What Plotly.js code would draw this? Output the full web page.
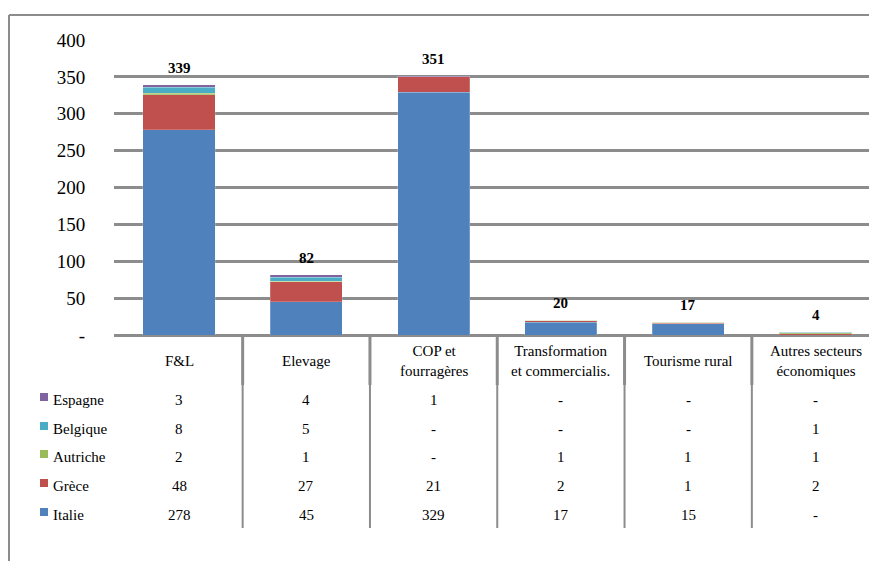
<!DOCTYPE html>
<html>
<head>
<meta charset="utf-8">
<script src="https://cdn.plot.ly/plotly-3.0.1.min.js"></script>
<style>html,body{margin:0;padding:0;background:#fff;}#chart{width:869px;height:561px;}</style>
</head>
<body>
<div id="chart"></div>
<script>
// ---- data ----
const categories = ["F&L", "Elevage", "COP et\nfourragères", "Transformation\net commercialis.", "Tourisme rural", "Autres secteurs\néconomiques"];
const seriesNames = ["Italie", "Grèce", "Autriche", "Belgique", "Espagne"];
const italie   = [278, 45, 329, 17, 15, 0];
const grece    = [48, 27, 21, 2, 1, 2];
const autriche = [2, 1, 0, 1, 1, 1];
const belgique = [8, 5, 0, 0, 0, 1];
const espagne  = [3, 4, 1, 0, 0, 0];
const totals   = [339, 82, 351, 20, 17, 4];
const yTickVals = [0, 50, 100, 150, 200, 250, 300, 350, 400];
const yTickText = ["-", "50", "100", "150", "200", "250", "300", "350", "400"];

const seriesValues = [italie, grece, autriche, belgique, espagne];
const colors = ["#4F81BD", "#C0504D", "#9BBB59", "#4BACC6", "#8064A2"];

// layout geometry helpers (pixel -> paper)
const W = 869, H = 561, ML = 114, MT = 40, MB = 226;
const plotW = W - ML, plotH = H - MT - MB;
const pxX = p => (p - ML) / plotW;
const pxY = p => (H - MB - p) / plotH;

const xIdx = categories.map((c, i) => i);
const serif = "'Liberation Serif', 'DejaVu Serif', serif";

const traces = seriesNames.map((name, k) => ({
  type: "bar",
  name: name,
  x: xIdx,
  y: seriesValues[k],
  width: 0.566,
  marker: {color: colors[k], line: {color: "rgba(255,255,255,0.4)", width: 0.5}},
  hoverinfo: "skip"
}));

const annotations = [];
const shapes = [];

// totals above bars
totals.forEach((t, i) => annotations.push({
  x: i, y: t, xref: "x", yref: "y", text: "<b>" + t + "</b>", showarrow: false,
  yanchor: "bottom", yshift: 7, font: {family: serif, size: 15, color: "#000"}
}));

// header row (category names)
categories.forEach((c, i) => annotations.push({
  x: i, y: pxY(361), xref: "x", yref: "paper", text: c.replace("\n", "<br>"), showarrow: false,
  yanchor: "middle", font: {family: serif, size: 15, color: "#000"}
}));

// table rows: top row Espagne ... bottom row Italie
const rowOrder = [4, 3, 2, 1, 0];
const rowY = [400, 429, 457, 486, 515];
rowOrder.forEach((k, r) => {
  const yc = pxY(rowY[r]);
  annotations.push({
    x: pxX(51), y: yc, xref: "paper", yref: "paper", text: seriesNames[k], showarrow: false,
    xanchor: "left", yanchor: "middle", font: {family: serif, size: 15, color: "#000"}
  });
  shapes.push({
    type: "rect", xref: "paper", yref: "paper",
    x0: pxX(40), x1: pxX(48), y0: pxY(rowY[r] + 1), y1: pxY(rowY[r] - 7),
    fillcolor: colors[k], line: {width: 0}
  });
  seriesValues[k].forEach((v, i) => annotations.push({
    x: i, y: yc, xref: "x", yref: "paper", text: v === 0 ? "-" : String(v), showarrow: false,
    yanchor: "middle", font: {family: serif, size: 15, color: "#000"}
  }));
});

// column separators
for (let i = 0; i < categories.length - 1; i++) {
  shapes.push({type: "line", xref: "x", yref: "paper", x0: i + 0.5, x1: i + 0.5,
    y0: pxY(335), y1: pxY(385), line: {color: "#8c8c8c", width: 3}});
  shapes.push({type: "line", xref: "x", yref: "paper", x0: i + 0.5, x1: i + 0.5,
    y0: pxY(385), y1: pxY(528), line: {color: "#8c8c8c", width: 2}});
}

// outer frame
shapes.push({type: "line", xref: "paper", yref: "paper", x0: pxX(9), x1: pxX(9),
  y0: pxY(15), y1: pxY(565), line: {color: "#8c8c8c", width: 2}});
shapes.push({type: "line", xref: "paper", yref: "paper", x0: pxX(9), x1: pxX(875),
  y0: pxY(15), y1: pxY(15), line: {color: "#8c8c8c", width: 2}});

const bandLeft = 115.35, band = 127.3;
const xMin = -0.5 - (bandLeft - ML) / band;
const xMax = xMin + plotW / band;

const layout = {
  width: W, height: H,
  margin: {l: ML, r: 0, t: MT, b: MB},
  barmode: "stack",
  showlegend: false,
  font: {family: serif},
  paper_bgcolor: "#fff", plot_bgcolor: "#fff",
  xaxis: {range: [xMin, xMax], showticklabels: false, showgrid: false, zeroline: false, ticks: "", fixedrange: true},
  yaxis: {
    range: [0, 400], tickvals: yTickVals, ticktext: yTickText,
    showgrid: true, gridcolor: "#8c8c8c", gridwidth: 3,
    zeroline: true, zerolinecolor: "#8c8c8c", zerolinewidth: 3,
    ticks: "outside", ticklen: 24, tickcolor: "rgba(0,0,0,0)",
    tickfont: {family: serif, size: 19, color: "#000"}, fixedrange: true
  },
  annotations: annotations,
  shapes: shapes
};

Plotly.newPlot("chart", traces, layout, {displayModeBar: false, staticPlot: true});
</script>
</body>
</html>
